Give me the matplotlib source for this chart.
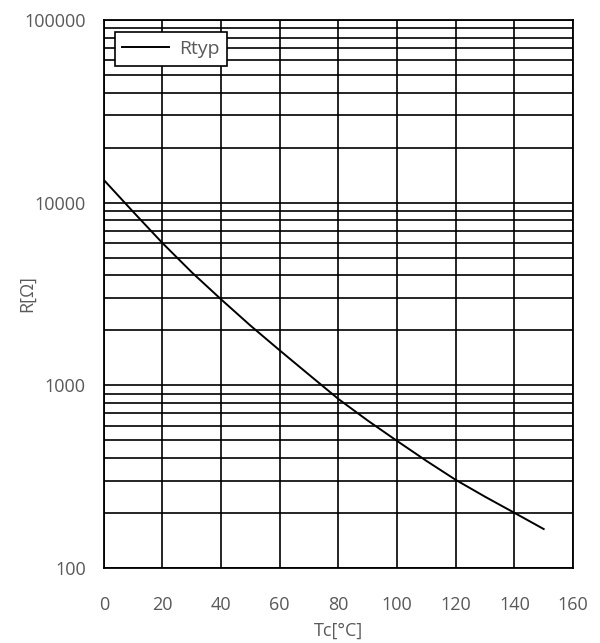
import numpy as np
import matplotlib.pyplot as plt
from matplotlib.ticker import FixedLocator, NullFormatter

# Tc [°C] vs typical resistance R [Ohm]
temp = [0, 10, 20, 30, 40, 50, 60, 70, 80, 90, 100, 110, 120, 130, 140, 150]
r_typ = [13300, 8900, 6000, 4150, 2950, 2120, 1550, 1140, 840, 640, 495, 385, 303, 245, 200, 163]

x_ticks = [0, 20, 40, 60, 80, 100, 120, 140, 160]
y_ticks = [100, 1000, 10000, 100000]
y_labels = ['100', '1000', '10000', '100000']

plt.rcParams['font.family'] = ['Open Sans', 'DejaVu Sans']

fig = plt.figure(figsize=(6.0, 6.43), dpi=100)
ax = fig.add_axes([0.173, 0.117, 0.782, 0.852])

ax.plot(temp, r_typ, color='black', lw=1.4, label='Rtyp')

ax.set_yscale('log')
ax.set_xlim(0, 160)
ax.set_ylim(100, 100000)
ax.set_xticks(x_ticks)
ax.set_yticks(y_ticks)
ax.set_yticklabels(y_labels)
minors = [m * 10 ** e for e in range(2, 5) for m in range(2, 10)]
ax.yaxis.set_minor_locator(FixedLocator(minors))
ax.yaxis.set_minor_formatter(NullFormatter())

ax.grid(True, which='major', color='black', lw=1.2)
ax.grid(True, which='minor', axis='y', color='black', lw=1.2)
ax.tick_params(which='both', length=0, labelsize=13, labelcolor='#595959')
ax.tick_params(axis='y', pad=13)
ax.tick_params(axis='x', pad=20)
for s in ax.spines.values():
    s.set_linewidth(1.3)

ax.set_xlabel('Tc[°C]', fontsize=13, color='#595959', labelpad=6)
ax.set_ylabel('R[Ω]', fontsize=13, color='#595959')
ax.yaxis.set_label_coords(-0.145, 0.5)

leg = ax.legend(loc='upper left', bbox_to_anchor=(0.023, 0.978), fancybox=False,
                framealpha=1, edgecolor='black', fontsize=14, handlelength=2.4,
                handletextpad=0.5, borderpad=0.4, borderaxespad=0)
leg.get_frame().set_linewidth(1.2)
for t in leg.get_texts():
    t.set_color('#595959')

fig.savefig('out.png', dpi=100)
